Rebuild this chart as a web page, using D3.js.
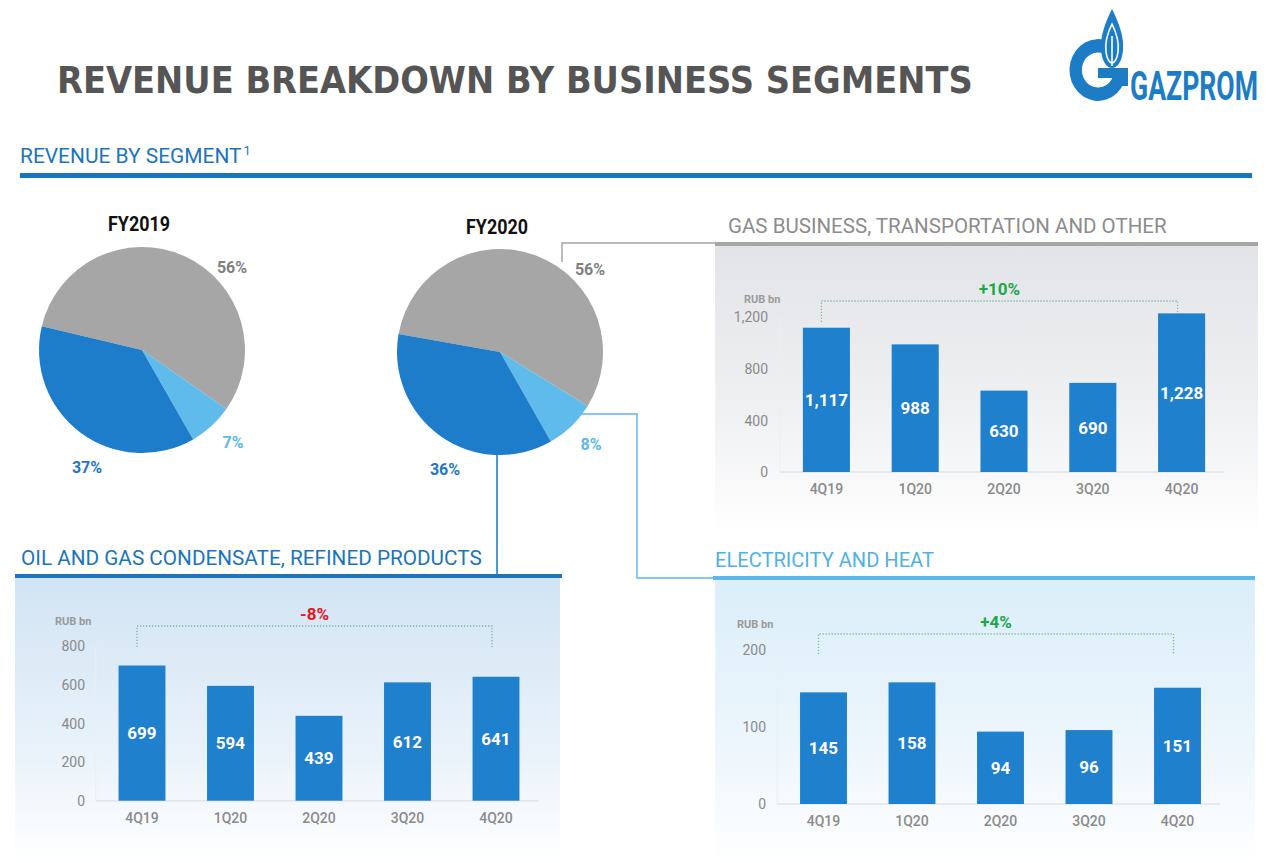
<!DOCTYPE html>
<html><head><meta charset="utf-8">
<script src="https://cdn.jsdelivr.net/npm/d3@7"></script>
<style>body{margin:0;background:#fff;} svg{display:block;}</style>
</head><body>
<svg id="c" width="1280" height="863"></svg>
<script>
// ---------- DATA ----------
const quarters = ["4Q19", "1Q20", "2Q20", "3Q20", "4Q20"];
const gasValues = [1117, 988, 630, 690, 1228];
const oilValues = [699, 594, 439, 612, 641];
const elecValues = [145, 158, 94, 96, 151];
const gasTicks = [0, 400, 800, 1200];
const oilTicks = [0, 200, 400, 600, 800];
const elecTicks = [0, 100, 200];
const segmentNames = ["Gas business, transportation and other", "Electricity and heat", "Oil and gas condensate, refined products"];
const share2019 = [56, 7, 37];
const share2020 = [56, 8, 36];
const pieYears = ["FY2019", "FY2020"];
const changeLabels = ["+10%", "-8%", "+4%"];

// ---------- STYLE ----------
const FONT = "Roboto, 'Liberation Sans', sans-serif";
const C = {
  title: "#555555", blue: "#1b75bb", light: "#5bb8e8", gray: "#a6a6a6",
  bar: "#1f80cd", tick: "#8a8a8a", green: "#1aa84b", red: "#e5161d"
};
const sliceColors = ["#a6a6a6", "#5fbbeb", "#1e7dca"];
const pctColors = ["#7f7f7f", "#5bb8e8", "#1f77c4"];

const svg = d3.select("#c");
const defs = svg.append("defs");
function grad(id, stops) {
  const g = defs.append("linearGradient").attr("id", id).attr("x1", 0).attr("y1", 0).attr("x2", 0).attr("y2", 1);
  stops.forEach(s => g.append("stop").attr("offset", s[0]).attr("stop-color", s[1]));
}
grad("gGas", [[0, "#e3e4e7"], [0.55, "#eff0f2"], [1, "#ffffff"]]);
grad("gOil", [[0, "#d2e4f4"], [0.6, "#e9f2fa"], [1, "#ffffff"]]);
grad("gElec", [[0, "#dbeef9"], [0.6, "#edf6fc"], [1, "#ffffff"]]);

// fit a text horizontally into a width by scaling (keeps real text)
function fitText(sel, x, y, width) {
  const w = sel.node().getComputedTextLength();
  sel.attr("x", 0).attr("y", 0).attr("transform", `translate(${x},${y}) scale(${width / w},1)`);
  return sel;
}

// ---------- TITLE ----------
fitText(svg.append("text")
  .attr("font-family", "'DejaVu Sans', Verdana, sans-serif").attr("font-weight", "bold")
  .attr("font-size", 38).attr("fill", C.title)
  .text("REVENUE BREAKDOWN BY BUSINESS SEGMENTS"), 57, 93, 916);

// ---------- LOGO ----------
const logo = svg.append("g");
logo.append("path")
  .attr("transform", "translate(1098,70) scale(0.95,1.03)")
  .attr("d", d3.arc().innerRadius(17).outerRadius(30).startAngle(Math.PI * 0.5).endAngle(Math.PI * 2.12)())
  .attr("fill", "#1c7dc6");
logo.append("rect").attr("x", 1098).attr("y", 68).attr("width", 30).attr("height", 10).attr("fill", "#1c7dc6");
logo.append("rect").attr("x", 1115).attr("y", 68).attr("width", 13).attr("height", 18).attr("fill", "#1c7dc6");
logo.append("path")
  .attr("d", "M1112,9 C1120,25 1124,38 1123,50 C1122,62 1117,68 1112,68 C1107,68 1102,62 1101,50 C1100,38 1104,25 1112,9 Z")
  .attr("fill", "#1c7dc6");
logo.append("path")
  .attr("d", "M1112,24 C1117,34 1119,44 1118,52 C1117,60 1114,63 1112,63 C1110,63 1107,60 1106,52 C1105,44 1107,34 1112,24 Z")
  .attr("fill", "none").attr("stroke", "#fff").attr("stroke-width", 1.6);
logo.append("line").attr("x1", 1112).attr("x2", 1112).attr("y1", 36).attr("y2", 66).attr("stroke", "#fff").attr("stroke-width", 1.6);
fitText(logo.append("text")
  .attr("font-family", FONT).attr("font-weight", "bold").attr("font-size", 40).attr("fill", "#1c7dc6")
  .text("GAZPROM"), 1130, 100, 128);

// ---------- SECTION HEADER ----------
const sec = svg.append("text").attr("font-family", FONT).attr("font-size", 21).attr("fill", C.blue);
sec.append("tspan").text("REVENUE BY SEGMENT");
sec.append("tspan").attr("font-size", 13).attr("dy", -8).attr("dx", 2).text("1");
fitText(sec, 20, 163, 229);
svg.append("rect").attr("x", 20).attr("y", 173).attr("width", 1232).attr("height", 5).attr("fill", C.blue);

// ---------- PANELS ----------
svg.append("rect").attr("x", 715).attr("y", 246).attr("width", 543).attr("height", 290).attr("fill", "url(#gGas)");
svg.append("rect").attr("x", 15).attr("y", 578).attr("width", 545).attr("height", 285).attr("fill", "url(#gOil)");
svg.append("rect").attr("x", 715).attr("y", 580).attr("width", 540).attr("height", 283).attr("fill", "url(#gElec)");

// connectors + header lines
svg.append("path").attr("d", "M562,262 V243 H715").attr("fill", "none").attr("stroke", C.gray).attr("stroke-width", 1.5);
svg.append("rect").attr("x", 715).attr("y", 242).attr("width", 543).attr("height", 4).attr("fill", C.gray);
svg.append("path").attr("d", "M497,455 V575").attr("fill", "none").attr("stroke", C.blue).attr("stroke-width", 1.5);
svg.append("rect").attr("x", 15).attr("y", 574).attr("width", 547).attr("height", 4).attr("fill", C.blue);
svg.append("path").attr("d", "M580,414 H637 V578 H715").attr("fill", "none").attr("stroke", C.light).attr("stroke-width", 1.5);
svg.append("rect").attr("x", 713).attr("y", 576).attr("width", 542).attr("height", 4).attr("fill", C.light);

function header(txt, x, y, len, color) {
  fitText(svg.append("text").attr("font-family", FONT).attr("font-size", 21)
    .attr("fill", color).text(txt), x, y, len);
}
header(segmentNames[0].toUpperCase(), 728, 233, 439, "#8c8c8c");
header(segmentNames[2].toUpperCase(), 21, 565, 461, C.blue);
header(segmentNames[1].toUpperCase(), 715, 567, 219, "#4fb2e3");

// ---------- PIES ----------
const pieLayout = [
  { cx: 142, cy: 350, start: -76.6, titleX: 108, titleY: 231 },
  { cx: 500, cy: 352, start: -80, titleX: 466, titleY: 234 }
];
const pctOffsets = [[90, -77], [91, 98], [-55, 123]];
[share2019, share2020].forEach((vals, i) => {
  const L = pieLayout[i];
  const a0 = L.start * Math.PI / 180;
  const pie = d3.pie().sort(null).startAngle(a0).endAngle(a0 + 2 * Math.PI);
  const arc = d3.arc().innerRadius(0).outerRadius(103);
  const g = svg.append("g").attr("transform", `translate(${L.cx},${L.cy})`);
  g.selectAll("path").data(pie(vals)).join("path").attr("d", arc).attr("fill", (d, j) => sliceColors[j]);
  g.selectAll("text").data(vals).join("text")
    .attr("x", (d, j) => pctOffsets[j][0]).attr("y", (d, j) => pctOffsets[j][1])
    .attr("text-anchor", "middle").attr("font-family", FONT).attr("font-weight", "bold")
    .attr("font-size", 16).attr("fill", (d, j) => pctColors[j]).text(d => d + "%");
  fitText(svg.append("text")
    .attr("font-family", FONT).attr("font-weight", "bold").attr("font-size", 20).attr("fill", "#111")
    .text(pieYears[i]), L.titleX, L.titleY, 62);
});

// ---------- BAR CHARTS ----------
function barChart(o) {
  const g = svg.append("g");
  const x = d3.scaleBand().domain(quarters).range(o.xRange).paddingInner(0.47).paddingOuter(0.235);
  const y = d3.scaleLinear().domain([0, d3.max(o.ticks)]).range(o.yRange);
  const bw = x.bandwidth();
  // faint axes
  g.append("line").attr("x1", o.xRange[0] - 2).attr("x2", o.xRange[1] - 2).attr("y1", y(0)).attr("y2", y(0))
    .attr("stroke", "#e1e4e8").attr("stroke-width", 1.5);
  g.append("line").attr("x1", o.xRange[0] - 2).attr("x2", o.xRange[0] - 2).attr("y1", y(d3.max(o.ticks))).attr("y2", y(0))
    .attr("stroke", "#eceef1").attr("stroke-width", 1);
  // y axis labels
  const ya = g.append("g").attr("transform", `translate(${o.tickX},0)`)
    .call(d3.axisLeft(y).tickValues(o.ticks).tickSize(0).tickPadding(0).tickFormat(d3.format(",")));
  ya.select(".domain").remove();
  ya.selectAll("text").attr("font-family", FONT).attr("font-size", 14).attr("fill", C.tick).attr("dy", "0.35em");
  // x axis labels
  const xa = g.append("g").attr("transform", `translate(0,${y(0)})`)
    .call(d3.axisBottom(x).tickSize(0).tickPadding(12));
  xa.select(".domain").remove();
  xa.selectAll("text").attr("font-family", FONT).attr("font-weight", 500).attr("font-size", 14).attr("fill", C.tick);
  // RUB bn
  g.append("text").attr("x", o.rub[0]).attr("y", o.rub[1]).attr("font-family", FONT).attr("font-weight", "bold")
    .attr("font-size", 11).attr("fill", "#9a9a9a").text("RUB bn");
  // bracket
  const xl = x(quarters[0]) + bw / 2 - 5, xr = x(quarters[quarters.length - 1]) + bw / 2 - 4;
  g.append("path").attr("d", `M${xl},${o.bracketEnd} V${o.bracketY} H${xr} V${o.bracketEnd}`)
    .attr("fill", "none").attr("stroke", "#7fb8a3").attr("stroke-width", 1.3).attr("stroke-dasharray", "1.3,1.7");
  g.append("text").attr("x", (xl + xr) / 2).attr("y", o.bracketY - 6).attr("text-anchor", "middle")
    .attr("font-family", FONT).attr("font-weight", "bold").attr("font-size", 17).attr("fill", o.changeColor)
    .text(o.change);
  // bars
  g.selectAll("rect.bar").data(o.values).join("rect").attr("class", "bar")
    .attr("x", (d, i) => x(quarters[i])).attr("width", bw)
    .attr("y", d => y(d)).attr("height", d => y(0) - y(d)).attr("fill", C.bar);
  g.selectAll("text.val").data(o.values).join("text").attr("class", "val")
    .attr("x", (d, i) => x(quarters[i]) + bw / 2).attr("y", d => (y(d) + y(0)) / 2)
    .attr("dy", "0.36em").attr("text-anchor", "middle")
    .attr("font-family", FONT).attr("font-weight", "bold").attr("font-size", 17).attr("fill", "#fff")
    .text(d => d3.format(",")(d));
}

barChart({ values: gasValues, ticks: gasTicks, xRange: [782, 1226], yRange: [472, 317], tickX: 768,
  rub: [744, 303], bracketY: 301, bracketEnd: 322, change: changeLabels[0], changeColor: C.green });
barChart({ values: oilValues, ticks: oilTicks, xRange: [97.75, 540.25], yRange: [800.7, 646], tickX: 85,
  rub: [55, 625], bracketY: 626, bracketEnd: 647, change: changeLabels[1], changeColor: C.red });
barChart({ values: elecValues, ticks: elecTicks, xRange: [779.25, 1221.75], yRange: [804, 650], tickX: 766,
  rub: [737, 628], bracketY: 634, bracketEnd: 654, change: changeLabels[2], changeColor: C.green });
</script>
</body></html>
